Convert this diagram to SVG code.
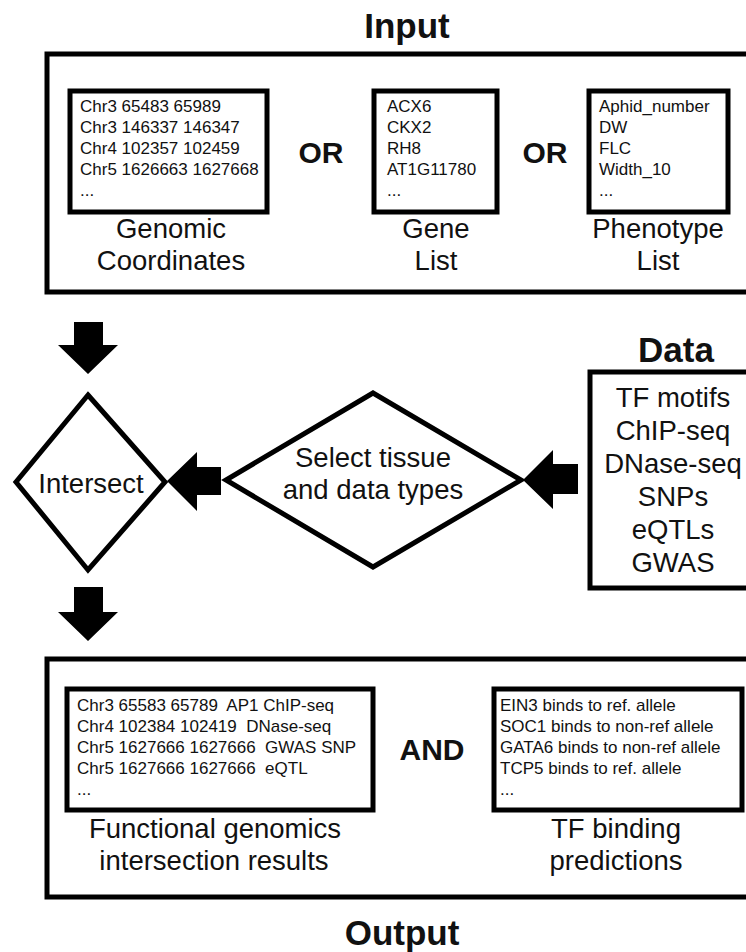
<svg xmlns="http://www.w3.org/2000/svg" width="746" height="952" viewBox="0 0 746 952">
  <style>
    .frame { fill: #fff; stroke: #000; stroke-width: 5; }
    .box { fill: #fff; stroke: #000; stroke-width: 5; }
    .dia { fill: #fff; stroke: #000; stroke-width: 5; stroke-linejoin: miter; }
    .arrow { fill: #000; stroke: none; }
    text { font-family: "Liberation Sans", Arial, sans-serif; fill: #111; }
    .title { font-size: 35px; font-weight: bold; text-anchor: middle; }
    .conj { font-size: 30px; font-weight: bold; text-anchor: middle; }
    .label { font-size: 27.5px; text-anchor: middle; }
    .list { font-size: 17px; white-space: pre; }
  </style>
  <rect width="746" height="952" fill="#fff"/>

  <!-- Input section -->
  <g id="input">
    <text class="title" x="407" y="38">Input</text>
    <rect class="frame" x="47" y="54" width="720" height="238"/>
  </g>

  <g id="genomic-coordinates">
    <rect class="box" x="70" y="91" width="197" height="121"/>
    <text class="list" x="80" y="112">Chr3 65483 65989</text>
    <text class="list" x="80" y="133">Chr3 146337 146347</text>
    <text class="list" x="80" y="154">Chr4 102357 102459</text>
    <text class="list" x="80" y="175">Chr5 1626663 1627668</text>
    <text class="list" x="80" y="196">...</text>
    <text class="label" x="171" y="238">Genomic</text>
    <text class="label" x="171" y="270">Coordinates</text>
  </g>

  <g id="or-1">
    <text class="conj" x="321" y="163">OR</text>
  </g>

  <g id="gene-list">
    <rect class="box" x="374" y="91" width="123" height="121"/>
    <text class="list" x="387" y="112">ACX6</text>
    <text class="list" x="387" y="133">CKX2</text>
    <text class="list" x="387" y="154">RH8</text>
    <text class="list" x="387" y="175">AT1G11780</text>
    <text class="list" x="387" y="196">...</text>
    <text class="label" x="436" y="238">Gene</text>
    <text class="label" x="436" y="270">List</text>
  </g>

  <g id="or-2">
    <text class="conj" x="545" y="163">OR</text>
  </g>

  <g id="phenotype-list">
    <rect class="box" x="589" y="91" width="139" height="121"/>
    <text class="list" x="599" y="112">Aphid_number</text>
    <text class="list" x="599" y="133">DW</text>
    <text class="list" x="599" y="154">FLC</text>
    <text class="list" x="599" y="175">Width_10</text>
    <text class="list" x="599" y="196">...</text>
    <text class="label" x="658" y="238">Phenotype</text>
    <text class="label" x="658" y="270">List</text>
  </g>

  <!-- Processing steps -->
  <g id="intersect">
    <polygon class="dia" points="88,395 165,482 88,570 16,482"/>
    <text class="label" x="91" y="493">Intersect</text>
  </g>

  <g id="select">
    <polygon class="dia" points="373,393 521,480 373,567 226,480"/>
    <text class="label" x="373" y="467">Select tissue</text>
    <text class="label" x="373" y="499">and data types</text>
  </g>

  <g id="data">
    <text class="title" x="676" y="362">Data</text>
    <rect class="box" x="590" y="372" width="180" height="216"/>
    <text class="label" x="673" y="407">TF motifs</text>
    <text class="label" x="673" y="440">ChIP-seq</text>
    <text class="label" x="673" y="473">DNase-seq</text>
    <text class="label" x="673" y="506">SNPs</text>
    <text class="label" x="673" y="539">eQTLs</text>
    <text class="label" x="673" y="572">GWAS</text>
  </g>

  <!-- Output section -->
  <g id="output">
    <rect class="frame" x="47" y="659" width="720" height="238"/>
    <text class="title" x="402" y="945">Output</text>
  </g>

  <g id="functional-genomics">
    <rect class="box" x="67" y="689" width="306" height="121"/>
    <text class="list" x="77" y="711">Chr3 65583 65789  AP1 ChIP-seq</text>
    <text class="list" x="77" y="732">Chr4 102384 102419  DNase-seq</text>
    <text class="list" x="77" y="753">Chr5 1627666 1627666  GWAS SNP</text>
    <text class="list" x="77" y="774">Chr5 1627666 1627666  eQTL</text>
    <text class="list" x="77" y="795">...</text>
    <text class="label" x="215" y="838">Functional genomics</text>
    <text class="label" x="214" y="870">intersection results</text>
  </g>

  <g id="and">
    <text class="conj" x="432" y="760">AND</text>
  </g>

  <g id="tf-binding">
    <rect class="box" x="494" y="689" width="248" height="121"/>
    <text class="list" x="500" y="711">EIN3 binds to ref. allele</text>
    <text class="list" x="500" y="732">SOC1 binds to non-ref allele</text>
    <text class="list" x="500" y="753">GATA6 binds to non-ref allele</text>
    <text class="list" x="500" y="774">TCP5 binds to ref. allele</text>
    <text class="list" x="500" y="795">...</text>
    <text class="label" x="616" y="838">TF binding</text>
    <text class="label" x="616" y="870">predictions</text>
  </g>

  <!-- Block arrows -->
  <g id="connectors">
    <polygon class="arrow" points="74,322 103,322 103,345 118,345 88,374 58,345 74,345"/>
    <polygon class="arrow" points="221,467 221,495 197,495 197,511 167,481 197,452 197,467"/>
    <polygon class="arrow" points="578,464 578,494 553,494 553,509 523,480 553,450 553,464"/>
    <polygon class="arrow" points="74,587 103,587 103,612 118,612 88,641 58,612 74,612"/>
  </g>
</svg>
